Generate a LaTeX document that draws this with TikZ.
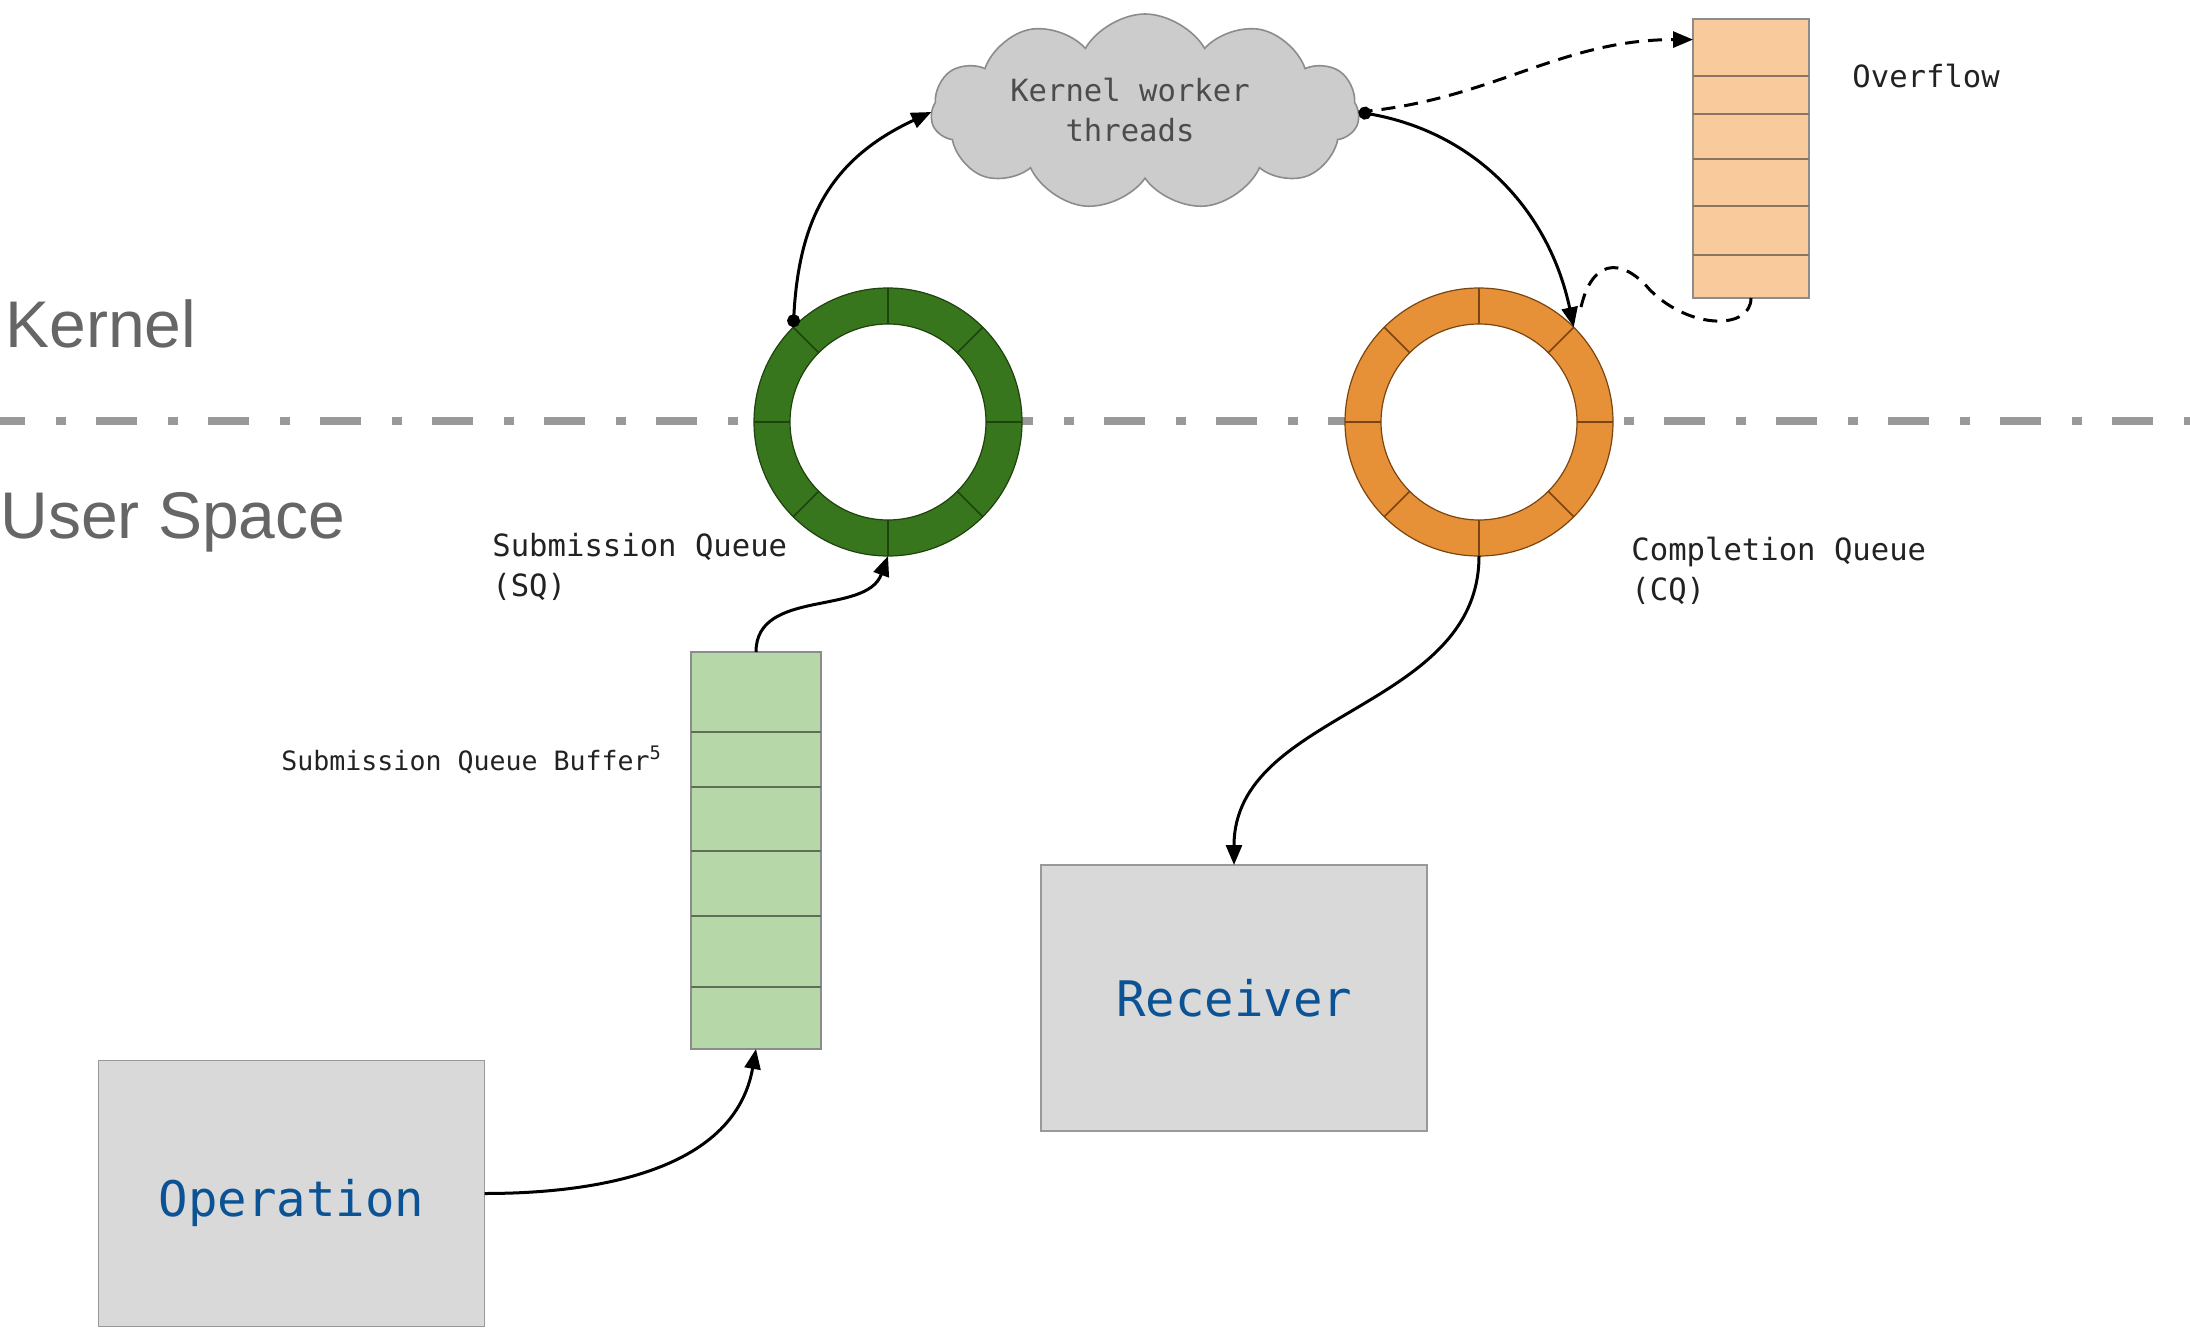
\documentclass[tikz,border=0pt]{standalone}
\usepackage{fontspec}
\setmainfont{Liberation Sans}
\newfontfamily\monof{DejaVu Sans Mono}
\usetikzlibrary{arrows.meta,shapes.symbols}
\definecolor{sepgray}{HTML}{999999}
\definecolor{lblgray}{HTML}{666666}
\definecolor{sqgreen}{HTML}{38761D}
\definecolor{sqdark}{HTML}{1F420F}
\definecolor{cqorange}{HTML}{E69138}
\definecolor{cqdark}{HTML}{7A4510}
\definecolor{bufgreen}{HTML}{B6D7A8}
\definecolor{ovforange}{HTML}{F9CB9C}
\definecolor{ovfline}{HTML}{8C7462}
\definecolor{bufline}{HTML}{5E6E58}
\definecolor{boxgray}{HTML}{D9D9D9}
\definecolor{cloudgray}{HTML}{CCCCCC}
\definecolor{opblue}{HTML}{0B5394}
\definecolor{txtdark}{HTML}{222222}
\newcommand\drawring[3]{%
  \fill[white] (#1.center) circle[radius=49pt];
  \fill[#2, draw=#3, line width=0.6pt, even odd rule] (#1.center) circle[radius=67pt] circle[radius=49pt];
  \foreach \a in {0,45,...,315}
    \draw[#3, line width=0.8pt] ([shift={(\a:49pt)}]#1.center) -- ([shift={(\a:67pt)}]#1.center);
}
\begin{document}
\begin{tikzpicture}[x=0.5pt,y=0.5pt,
  region/.style={font=\fontsize{33}{40}\selectfont, text=lblgray, inner sep=0, anchor=base west},
  lbl/.style={font=\monof\fontsize{15.3}{20}\selectfont, text=txtdark, inner sep=0, align=left},
  smalllbl/.style={font=\monof\fontsize{13.3}{16}\selectfont, text=txtdark, inner sep=0, anchor=base west},
  stackbox/.style={draw=black!45, line width=0.8pt, inner sep=0, outer sep=0},
  bigbox/.style={fill=boxgray, draw=black!40, line width=0.8pt, inner sep=0, outer sep=0,
    minimum width=193pt, minimum height=133pt, font=\monof\fontsize{24.5}{28}\selectfont, text=opblue},
  ringnode/.style={circle, inner sep=0, outer sep=0, minimum size=134pt},
  conn/.style={line width=1.5pt, black},
  tip/.style={-{Triangle[length=10pt,width=8pt]}},
  dottip/.style={{Circle[length=6.5pt]}-{Triangle[length=10pt,width=8pt]}},
  dashconn/.style={line width=1.5pt, black, dash pattern=on 7pt off 4.5pt}
]
\useasboundingbox (0,0) rectangle (2190,-1337);
\fill[white] (0,0) rectangle (2190,-1337);

% separator
\draw[sepgray, line width=4pt, dash pattern=on 20.5pt off 15.5pt on 5pt off 15pt, dash phase=8pt]
  (0,-421) -- (2190,-421);

\node[region] (kernel) at (5,-348) {Kernel};
\node[region] (user) at (0,-538) {User Space};

% rings
\node[ringnode] (sq) at (888,-422) {};
\node[ringnode] (cq) at (1479,-422) {};
\drawring{sq}{sqgreen}{sqdark}
\drawring{cq}{cqorange}{cqdark}

% cloud
\node[cloud, cloud puffs=11, cloud puff arc=120, aspect=2.15, fill=cloudgray, draw=black!45,
  line width=0.8pt, minimum width=214pt, minimum height=98pt, inner sep=0, outer sep=0]
  (cloud) at (1145,-112) {};
\node[font=\monof\fontsize{15.3}{20}\selectfont, text=black!70, align=center, inner sep=0]
  (cloudtxt) at (1130,-110) {Kernel worker\\threads};

% submission queue buffer
\node[stackbox, fill=bufgreen, minimum width=65pt, minimum height=198.5pt] (sqb) at (756,-850.5) {};
\foreach \yy in {732,787,851,916,987} \draw[bufline, line width=0.8pt] (691,-\yy) -- (821,-\yy);

% overflow
\node[stackbox, fill=ovforange, minimum width=58pt, minimum height=139.5pt] (ovf) at (1751,-158.5) {};
\foreach \yy in {76,114,159,206,255} \draw[ovfline, line width=0.8pt] (1693,-\yy) -- (1809,-\yy);

% boxes
\node[bigbox, text depth=0pt] (op) at (291.5,-1193.5) {\raisebox{-4pt}{Operation}};
\node[bigbox] (rcv) at (1234,-998) {Receiver};

% labels
\node[lbl, anchor=north west] (sqlbl) at (492,-533) {Submission Queue\\(SQ)};
\node[lbl, anchor=north west] (cqlbl) at (1631,-537) {Completion Queue\\(CQ)};
\node[smalllbl] (sqblbl) at (281,-770) {Submission Queue Buffer\textsuperscript{5}};
\node[lbl, anchor=base west] (ovflbl) at (1852,-88) {Overflow};

% connectors
\draw[conn, tip] (op.east) to[out=0, in=-100] (sqb.south);
\draw[conn, tip] (sqb.north) to[out=90, in=-110] (sq.south);
\draw[conn, dottip] (sq.135) to[out=87, in=205, looseness=1.1] (cloud.west);
\draw[conn, dottip] (cloud.east) to[out=-10, in=102] (cq.45);
\draw[dashconn, tip] (cloud.east) to[out=5, in=180] (ovf.116);
\coordinate (cqdash) at (1580,-312);
\draw[dashconn] (ovf.south) .. controls (1751,-330) and (1690,-330) .. (1650,-290)
  .. controls (1620,-255) and (1590,-260) .. (cqdash);
\draw[conn, tip] (cq.south) to[out=-90, in=90] (rcv.north);
\end{tikzpicture}
\end{document}
